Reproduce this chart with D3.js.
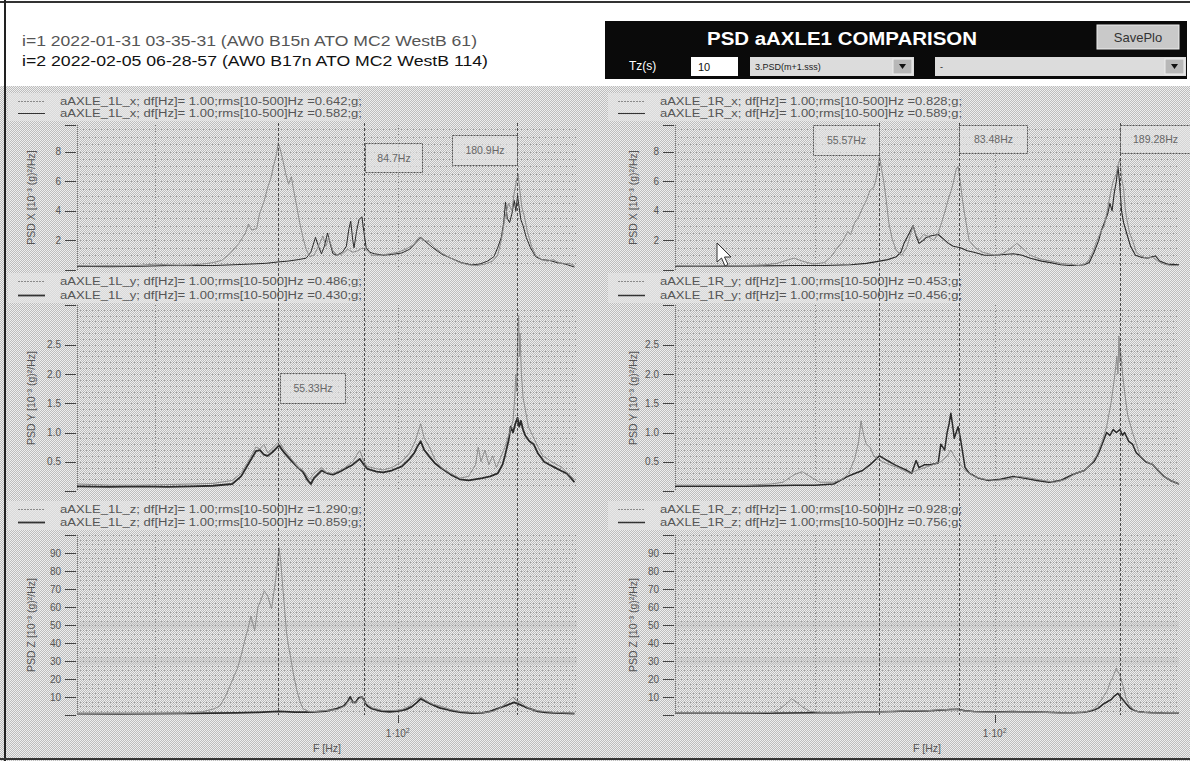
<!DOCTYPE html>
<html><head><meta charset="utf-8">
<script src="https://cdn.jsdelivr.net/npm/d3@7"></script>
<style>
html,body{margin:0;padding:0;background:#fff;}
svg{display:block;font-family:"Liberation Sans",Arial,sans-serif;}
</style></head><body>
<svg id="c" width="1190" height="761"></svg>
<script>
// ---------------- DATA ----------------
const headerLines = ["i=1  2022-01-31 03-35-31 (AW0  B15n  ATO  MC2  WestB  61)",
                     "i=2  2022-02-05 06-28-57 (AW0  B17n  ATO  MC2  WestB  114)"];
const titleText = "PSD aAXLE1  COMPARISON";
const legendLeft = [
  ["aAXLE_1L_x; df[Hz]= 1.00;rms[10-500]Hz =0.642;g;","aAXLE_1L_x; df[Hz]= 1.00;rms[10-500]Hz =0.582;g;"],
  ["aAXLE_1L_y; df[Hz]= 1.00;rms[10-500]Hz =0.486;g;","aAXLE_1L_y; df[Hz]= 1.00;rms[10-500]Hz =0.430;g;"],
  ["aAXLE_1L_z; df[Hz]= 1.00;rms[10-500]Hz =1.290;g;","aAXLE_1L_z; df[Hz]= 1.00;rms[10-500]Hz =0.859;g;"]];
const legendRight = [
  ["aAXLE_1R_x; df[Hz]= 1.00;rms[10-500]Hz =0.828;g;","aAXLE_1R_x; df[Hz]= 1.00;rms[10-500]Hz =0.589;g;"],
  ["aAXLE_1R_y; df[Hz]= 1.00;rms[10-500]Hz =0.453;g;","aAXLE_1R_y; df[Hz]= 1.00;rms[10-500]Hz =0.456;g;"],
  ["aAXLE_1R_z; df[Hz]= 1.00;rms[10-500]Hz =0.928;g;","aAXLE_1R_z; df[Hz]= 1.00;rms[10-500]Hz =0.756;g;"]];
const yTitles = ["PSD X [10\u207B\u00B3 (g)\u00B2/Hz]","PSD Y [10\u207B\u00B3 (g)\u00B2/Hz]","PSD Z [10\u207B\u00B3 (g)\u00B2/Hz]"];
const yTicksX = [2,4,6,8];
const yTicksY = [0.5,1.0,1.5,2.0,2.5];
const yTicksZ = [10,20,30,40,50,60,70,80,90];
const yDomains = [[0,9.8],[0,3.18],[0,100]];
const yMinorStep = [0.5,0.1,2.5];
const xDomainLeft = [20.4,243];
const xDomainRight = [19.6,256];
const gridFreqLeft = [30,100];
const gridFreqRight = [40,100];
const markersLeft = [55.33,84.7,180.9];
const markerLabelsLeft = ["55.33Hz","84.7Hz","180.9Hz"];
const markersRight = [55.57,83.48,189.28];
const markerLabelsRight = ["55.57Hz","83.48Hz","189.28Hz"];

const L_X_1 = [[20.4,0.3],[22,0.28],[24,0.3],[26,0.28],[28,0.32],[30,0.4],[32,0.35],[34,0.33],[36,0.35],[38,0.4],[40,0.5],[41.8,0.65],[43.5,1.1],[45.5,1.8],[47,2.5],[47.7,3.1],[48.5,2.7],[49.7,2.8],[50.4,3.8],[51.5,4.6],[52.5,5.6],[53.3,6.2],[54,7.0],[54.8,7.8],[55.3,8.6],[55.8,8.2],[56.6,7.4],[57.4,6.5],[58.2,5.8],[59,6.3],[59.6,5.5],[60.6,4.3],[61.5,3.2],[62.5,2.2],[63.5,1.4],[64.6,0.9],[66,1.0],[67.5,1.6],[69,2.3],[70,1.6],[71,2.2],[72.5,1.3],[74,1.0],[76,1.1],[78,1.4],[80,1.2],[82,1.3],[84,1.5],[86,1.3],[88,1.0],[92,1.0],[96,1.1],[100,1.2],[104,1.4],[108,1.7],[111,2.2],[114,2.0],[117,1.9],[120,1.5],[125,1.1],[130,0.8],[136,0.5],[142,0.35],[148,0.3],[154,0.4],[160,0.6],[164,1.0],[167,2.0],[170,3.5],[173,4.5],[176,4.0],[178,5.2],[180,6.0],[181.5,6.5],[183,5.4],[185,4.2],[187,3.7],[190,2.6],[194,1.6],[198,1.0],[204,0.7],[210,0.6],[216,0.7],[222,0.5],[228,0.4],[234,0.45],[240,0.3]];
const L_X_2 = [[20.4,0.25],[24,0.22],[28,0.25],[32,0.3],[36,0.3],[40,0.3],[44,0.35],[48,0.4],[52,0.45],[55.5,0.55],[58,0.6],[61,0.7],[63.5,0.8],[65,1.2],[66.5,2.2],[67.5,1.6],[68.5,1.1],[69.5,1.6],[70.6,2.5],[71.5,1.8],[72.5,1.1],[74,1.0],[76,1.2],[77.5,1.6],[78.5,2.8],[79.2,3.3],[80,2.0],[80.5,1.5],[81.5,2.6],[82.5,3.4],[83.7,3.6],[84.5,2.6],[85.5,1.5],[87,1.2],[89,1.1],[93,1.0],[97,1.05],[102,1.15],[106,1.4],[109,1.8],[112,2.2],[115,1.9],[119,1.5],[124,1.1],[130,0.8],[137,0.5],[144,0.35],[150,0.4],[156,0.6],[161,0.9],[164,1.5],[167,2.2],[169,3.2],[170.5,4.6],[172,3.5],[174,3.2],[176,3.8],[178,4.7],[179.5,4.0],[181,5.0],[182.5,4.2],[184,3.4],[186,3.0],[189,2.2],[193,1.5],[198,0.9],[204,0.7],[212,0.65],[220,0.5],[226,0.45],[232,0.35],[240,0.2]];
const R_X_1 = [[19.6,0.3],[22,0.28],[25,0.3],[28,0.3],[31,0.35],[33,0.45],[35,0.7],[36,0.8],[37.5,0.6],[39.7,0.4],[42,0.5],[43.5,0.9],[44.6,1.4],[46,1.9],[47.3,2.6],[48,2.4],[49,3.2],[50,3.6],[51,4.2],[52,4.7],[53,5.4],[54,5.6],[54.5,6.0],[55,6.6],[55.6,7.7],[56.2,6.8],[56.8,6.0],[57.5,4.8],[58.3,3.2],[59.3,2.1],[60.6,1.3],[62.3,1.0],[64,1.6],[65,2.3],[66,3.0],[67,2.4],[68,2.0],[69.5,2.4],[71,2.3],[73.4,2.0],[75,2.5],[76.5,3.3],[77.7,4.0],[79,4.8],[80,5.3],[81,5.9],[82.2,6.8],[83,7.0],[83.9,6.0],[85,4.6],[86,3.6],[87.8,2.0],[90.6,1.5],[94,1.2],[100,1.0],[104,1.1],[108,1.4],[112,1.8],[115,1.5],[120,1.0],[127,0.7],[133,0.6],[140,0.45],[146,0.4],[154,0.3],[158,0.4],[161,0.6],[165,1.2],[168,1.9],[172,2.6],[175,3.0],[178,4.2],[180,5.0],[183,6.0],[186,6.5],[188,7.2],[189.5,7.5],[191,6.2],[193,5.5],[194.5,4.2],[196,3.5],[199,2.5],[202,2.0],[206,1.2],[210,1.0],[216,0.8],[224,0.85],[230,0.6],[237,0.4],[245,0.3],[256,0.3]];
const R_X_2 = [[19.6,0.25],[24,0.25],[30,0.28],[36,0.3],[42,0.3],[48,0.35],[52,0.45],[55.6,0.6],[58,0.7],[60.6,0.9],[62,1.2],[63,1.8],[64.5,2.4],[66,3.0],[67,2.3],[68,1.8],[69.5,2.0],[70.6,2.2],[72,2.3],[75,2.4],[77,2.1],[79,1.8],[81,1.6],[84,1.5],[87,1.3],[90,1.2],[95,1.0],[100,1.0],[105,1.05],[110,1.1],[115,1.0],[120,0.8],[127,0.6],[133,0.5],[140,0.35],[146,0.3],[153,0.3],[158,0.35],[162,0.5],[166,1.2],[170,2.0],[172,2.6],[175,3.2],[178,3.8],[180,4.5],[182,4.0],[184,5.2],[186,6.0],[187.5,7.0],[189,6.0],[191,4.0],[193,3.2],[196,2.5],[200,1.6],[205,1.0],[212,0.85],[218,0.8],[223,0.9],[227,0.95],[232,0.6],[241,0.4],[256,0.35]];
const L_Y_1 = [[20.4,0.12],[24,0.1],[28,0.1],[32,0.11],[36,0.12],[40,0.13],[44,0.18],[46,0.3],[48,0.55],[49.5,0.75],[50.5,0.72],[51.5,0.8],[52.5,0.65],[54,0.75],[55.5,0.85],[57,0.7],[59,0.55],[61,0.4],[62.5,0.35],[64.6,0.2],[66,0.3],[68.5,0.4],[70,0.32],[72.5,0.3],[75,0.35],[77,0.4],[80,0.5],[82.8,0.7],[84.5,0.5],[86,0.42],[90,0.38],[93,0.36],[97,0.4],[102,0.5],[106,0.65],[109,0.85],[112,1.15],[114,0.9],[117,0.75],[120,0.55],[124,0.4],[130,0.3],[136,0.22],[142,0.25],[147,0.45],[149,0.75],[151,0.5],[154,0.7],[157,0.45],[160,0.6],[163,0.4],[166,0.55],[170,0.75],[174,1.0],[177,1.2],[178.5,1.6],[179.5,2.0],[180.3,1.7],[181,2.6],[182,3.0],[182.6,2.3],[183.2,2.7],[184.5,2.0],[186,1.6],[188,1.4],[191,1.1],[195,0.95],[199,0.8],[205,0.6],[210,0.55],[214,0.5],[220,0.45],[226,0.4],[232,0.3],[240,0.2]];
const L_Y_2 = [[20.4,0.08],[24,0.07],[28,0.08],[32,0.07],[36,0.08],[40,0.09],[44,0.12],[46,0.25],[48,0.5],[49.5,0.68],[50.5,0.7],[51.5,0.62],[52.5,0.6],[54,0.68],[55.5,0.78],[57,0.65],[59,0.52],[61,0.4],[62.5,0.33],[64,0.18],[65,0.12],[66,0.22],[68.5,0.35],[70.6,0.3],[72.5,0.28],[75,0.33],[77,0.38],[80,0.45],[82.8,0.55],[84.5,0.45],[86,0.38],[90,0.33],[93,0.32],[97,0.35],[102,0.42],[106,0.55],[108.5,0.65],[110,0.75],[112,0.85],[114,0.7],[116.6,0.6],[120,0.48],[123.5,0.4],[130,0.28],[136,0.2],[142,0.18],[146.5,0.2],[152,0.22],[158,0.25],[164,0.3],[168,0.45],[170,0.6],[173,0.85],[175,1.1],[177,1.0],[179,1.15],[181,1.25],[182.5,1.1],[184,1.2],[186,1.05],[188,0.95],[192,0.85],[196,0.8],[200,0.65],[206.5,0.5],[212,0.45],[218,0.4],[224,0.35],[231,0.3],[236,0.22],[240,0.15]];
const R_Y_1 = [[19.6,0.1],[24,0.1],[28,0.1],[32,0.12],[34,0.15],[36,0.28],[37.5,0.33],[39,0.25],[41,0.15],[44,0.15],[46,0.2],[47.5,0.3],[49,0.55],[50,0.85],[50.6,1.2],[51.3,0.95],[52,0.8],[53,0.75],[54,0.6],[55,0.55],[56.5,0.5],[58.5,0.45],[61,0.4],[63,0.35],[65,0.3],[67,0.35],[70,0.4],[73,0.45],[76,0.5],[78.5,0.6],[80,0.7],[82,0.55],[84,0.45],[86,0.35],[90,0.25],[95,0.2],[100,0.18],[107,0.2],[113,0.25],[120,0.22],[128,0.18],[136,0.15],[144,0.2],[151,0.3],[158,0.35],[163,0.45],[168,0.6],[173,0.85],[177,1.1],[181,1.5],[184,1.9],[186.5,2.3],[187.5,2.0],[188.5,2.65],[189.5,2.2],[190,2.4],[192,2.0],[194,1.7],[197,1.3],[202,1.0],[206,0.8],[210,0.6],[217,0.5],[224,0.45],[230,0.35],[237,0.25],[245,0.18],[256,0.12]];
const R_Y_2 = [[19.6,0.08],[24,0.08],[28,0.08],[32,0.09],[36,0.1],[40,0.1],[44,0.12],[47.3,0.25],[49,0.3],[51,0.35],[53,0.45],[55.6,0.6],[57,0.55],[58.5,0.5],[60,0.45],[62,0.4],[64,0.35],[65.5,0.3],[67,0.52],[68,0.4],[70,0.45],[72,0.45],[75,0.48],[76,0.8],[77.5,0.7],[78.5,1.0],[79.3,1.15],[80,1.33],[80.8,1.1],[81.4,0.9],[82.2,1.0],[83,1.1],[84,0.9],[84.8,0.7],[86,0.4],[88,0.3],[92,0.22],[97,0.18],[103,0.2],[110,0.25],[116,0.22],[124,0.18],[132,0.15],[140,0.18],[146,0.25],[151,0.3],[158,0.35],[163,0.45],[166,0.5],[170,0.65],[174,0.85],[177,1.0],[180,0.95],[183,1.05],[186,1.0],[189.5,1.05],[192,0.95],[194,1.0],[198,0.85],[202,0.8],[206,0.65],[209.5,0.6],[216,0.5],[224,0.45],[230,0.35],[237,0.25],[245,0.18],[256,0.12]];
const L_Z_1 = [[20.4,0.8],[25,0.8],[30,0.9],[34.5,1.0],[38,1.8],[40.3,3.5],[41.4,5],[42.5,10],[43.5,16],[44.5,22],[45.2,26],[46,33],[46.9,42],[47.6,48],[48.3,55],[49.2,47],[50,60],[50.8,64],[51.6,69],[52.5,66],[53.5,59],[54.1,68],[54.7,77],[55.1,85],[55.5,93],[56,85],[56.6,70],[57.1,58],[57.6,46],[58.2,38],[58.8,32],[59.5,24],[60.6,14],[61.5,8],[62.5,3.5],[64.6,1.8],[67,2],[70,2.5],[74,3],[77,5],[79,9],[80,7],[81,6.5],[82.5,9],[83.7,10],[85,7],[88,4],[93,2.5],[98,2.5],[102,3],[106,5],[109,8],[112,10],[115,8],[119,6],[123.5,5],[130,3],[136,2],[144,1.5],[152,1.2],[160,2],[165,3.5],[170,6],[174,8],[177,10],[180,8],[184,7],[188,5],[192,3.5],[198,2.5],[206,2],[215,1.5],[225,1.3],[240,1.0]];
const L_Z_2 = [[20.4,0.8],[25,0.7],[30,0.8],[35,0.9],[40,1.0],[45,1.2],[50,1.5],[55.5,2.0],[60,1.6],[65,1.6],[70,2.2],[74,3.5],[76.5,5],[78,7.5],[79,10],[80,7],[81.2,7],[82.3,9.5],[83.7,10],[84.7,8],[86,5],[88,3.5],[92,2.2],[96,1.8],[100,2.2],[104,3],[107,4.5],[110,7],[112,9],[114,8],[118,6],[123,4],[130,2.5],[137,1.5],[144,1.0],[152,1.2],[158,2],[164,3.5],[170,5],[174,6],[178,7],[182,6],[186,5],[190,4],[195,3],[200,2],[208,1.5],[216,1.2],[226,1.0],[240,0.8]];
const R_Z_1 = [[19.6,1],[25,1],[30,1.2],[32.3,1.5],[33.5,3.5],[34.5,6],[35.5,9],[36.5,7],[37.5,4.5],[39,2],[41,1.5],[45,1.5],[50,1.5],[55.6,1.8],[60,2.0],[65,2.5],[70,2.3],[75,2.8],[80,3.2],[83,3.0],[86,2.2],[90,1.8],[100,1.5],[110,1.8],[120,1.6],[130,1.4],[140,1.2],[150,1.3],[158,1.6],[163,2.5],[166,3.5],[169,5.5],[172,8],[175,11],[178,14],[180,18],[182,20],[184,23],[186,26],[187.5,24],[189.5,22],[191.5,18],[193,15],[195,10],[198,6],[202,3.5],[206,2],[212,1.5],[222,1.2],[235,1.0],[256,1.0]];
const R_Z_2 = [[19.6,1],[25,1],[30,1],[35,1.1],[40,1.2],[45,1.3],[50,1.5],[55.6,1.8],[60,2],[65,2.3],[70,2.2],[75,2.6],[80,3],[83,3.2],[86,2.4],[90,2],[100,1.6],[110,1.9],[120,1.7],[130,1.5],[140,1.3],[150,1.2],[158,1.5],[163,2.2],[167,3],[170,4],[174,6],[178,7.5],[181,8.5],[184,10.5],[187.5,12],[190,10],[193,8],[196,6],[199,4],[202,3],[207,2],[214,1.5],[224,1.2],[240,1.0],[256,1.0]];

// ---------------- LAYOUT ----------------
const W = 1190, H = 761;
const svg = d3.select("#c");
const defs = svg.append("defs");
const pat = defs.append("pattern").attr("id","dith").attr("width",2).attr("height",2).attr("patternUnits","userSpaceOnUse");
pat.append("rect").attr("width",2).attr("height",2).attr("fill","#eeeeee");
pat.append("rect").attr("x",1).attr("y",0).attr("width",1).attr("height",1).attr("fill","#bdbdbd");
pat.append("rect").attr("x",0).attr("y",1).attr("width",1).attr("height",1).attr("fill","#bdbdbd");

svg.append("rect").attr("width",W).attr("height",H).attr("fill","#fff");
svg.append("rect").attr("x",0).attr("y",86).attr("width",W).attr("height",H-86).attr("fill","url(#dith)");
// frame
svg.append("rect").attr("x",0).attr("y",1).attr("width",W).attr("height",2).attr("fill","#333");
svg.append("rect").attr("x",4).attr("y",0).attr("width",2).attr("height",H).attr("fill","#222");
svg.append("rect").attr("x",0).attr("y",H-3).attr("width",W).attr("height",2).attr("fill","#333");

// header left
svg.append("text").attr("x",22).attr("y",46).attr("font-size",15).attr("fill","#555")
  .attr("textLength",455).attr("lengthAdjust","spacingAndGlyphs").text(headerLines[0]);
svg.append("text").attr("x",22).attr("y",66).attr("font-size",15).attr("fill","#111")
  .attr("textLength",466).attr("lengthAdjust","spacingAndGlyphs").text(headerLines[1]);

// header right (control panel)
svg.append("rect").attr("x",605).attr("y",21).attr("width",582).attr("height",58).attr("fill","#0a0a0a");
svg.append("text").attr("x",842).attr("y",45).attr("text-anchor","middle").attr("font-size",18).attr("font-weight","bold")
  .attr("fill","#fff").attr("textLength",270).attr("lengthAdjust","spacingAndGlyphs").text(titleText);
svg.append("rect").attr("x",1097).attr("y",25).attr("width",82).attr("height",24).attr("fill","#c9c9c9").attr("stroke","#eee");
svg.append("text").attr("x",1138).attr("y",42).attr("text-anchor","middle").attr("font-size",13).attr("fill","#333").text("SavePlo");
svg.append("text").attr("x",629).attr("y",70).attr("font-size",12).attr("fill","#fff").text("Tz(s)");
svg.append("rect").attr("x",691).attr("y",57).attr("width",47).attr("height",19).attr("fill","#fff");
svg.append("text").attr("x",698).attr("y",71).attr("font-size",11).attr("fill","#111").text("10");
function combo(x,w,label){
  svg.append("rect").attr("x",x).attr("y",57).attr("width",w).attr("height",19).attr("fill","#dcdcdc");
  svg.append("text").attr("x",x+5).attr("y",70).attr("font-size",9).attr("fill","#222").text(label);
  svg.append("rect").attr("x",x+w-21).attr("y",59).attr("width",19).attr("height",15).attr("fill","#b8b8b8").attr("stroke","#eee");
  svg.append("path").attr("d",`M${x+w-15},64 L${x+w-8},64 L${x+w-11.5},69 Z`).attr("fill","#111");
}
combo(750,164,"3.PSD(m+1.sss)");
combo(935,251,"-");

// panels
const cols = [
  {x0:77, x1:577, xd:xDomainLeft, grid:gridFreqLeft, mk:markersLeft, mkl:markerLabelsLeft, leg:legendLeft,
   data:[[L_X_1,L_X_2],[L_Y_1,L_Y_2],[L_Z_1,L_Z_2]], sx:18, tx:60, titleX:31, legBgW:350},
  {x0:675, x1:1179, xd:xDomainRight, grid:gridFreqRight, mk:markersRight, mkl:markerLabelsRight, leg:legendRight,
   data:[[R_X_1,R_X_2],[R_Y_1,R_Y_2],[R_Z_1,R_Z_2]], sx:618, tx:660, titleX:633, legBgW:352}
];
const panels = [
  {top:125, bot:270, leg:[101,113], ticks:yTicksX, fmt:d=>String(d)},
  {top:305, bot:491, leg:[281,295], ticks:yTicksY, fmt:d=>d.toFixed(1)},
  {top:535, bot:715, leg:[509,522], ticks:yTicksZ, fmt:d=>String(d)}
];
const s1Color = "#8c8c8c", s2Color = "#2b2b2b";
const s2Width = [[1,1.8,1.8],[1.1,1.5,1.5]];

cols.forEach((col,ci)=>{
  const x = d3.scaleLog().domain(col.xd).range([col.x0,col.x1]);
  col.x = x;
  panels.forEach((p,pi)=>{
    const y = d3.scaleLinear().domain(yDomains[pi]).range([p.bot,p.top]);
    const g = svg.append("g");
    // legend background
    g.append("rect").attr("x",col.sx-10).attr("y",p.leg[0]-8).attr("width",col.legBgW).attr("height",p.leg[1]-p.leg[0]+16)
      .attr("fill","#e6e6e6").attr("opacity",0.7);
    // panel 3 darker bands
    if(pi===2){
      [30,50].forEach(v=>{
        g.append("rect").attr("x",col.x0).attr("y",y(v+2)).attr("width",col.x1-col.x0).attr("height",y(v-2)-y(v+2))
          .attr("fill","#bdbdbd").attr("opacity",0.35);
      });
    }
    // horizontal grid
    const step = yMinorStep[pi];
    const n = Math.floor(yDomains[pi][1]/step+1e-6);
    for(let k=1;k<=n;k++){
      const v = k*step;
      g.append("line").attr("x1",col.x0).attr("x2",col.x1).attr("y1",Math.round(y(v))+0.5).attr("y2",Math.round(y(v))+0.5)
        .attr("stroke","#9a9a9a").attr("stroke-width",1).attr("stroke-dasharray","1,2");
    }
    // vertical grid
    col.grid.forEach(f=>{
      g.append("line").attr("x1",Math.round(x(f))+0.5).attr("x2",Math.round(x(f))+0.5).attr("y1",p.top).attr("y2",p.bot)
        .attr("stroke","#8a8a8a").attr("stroke-dasharray","1,2");
    });
    // left axis (dotted)
    g.append("line").attr("x1",col.x0+0.5).attr("x2",col.x0+0.5).attr("y1",p.top).attr("y2",p.bot)
      .attr("stroke","#777").attr("stroke-dasharray","1,1");
    // y ticks
    const allT = [yDomains[pi][0]].concat(p.ticks).concat([yDomains[pi][1]]);
    allT.forEach(t=>{
      g.append("line").attr("x1",col.x0-12).attr("x2",col.x0-1).attr("y1",Math.round(y(t))+0.5).attr("y2",Math.round(y(t))+0.5)
        .attr("stroke","#444").attr("stroke-width",1);
    });
    p.ticks.forEach(t=>{
      g.append("text").attr("x",col.x0-16).attr("y",y(t)+3.5).attr("text-anchor","end").attr("font-size",10).attr("fill","#555").text(p.fmt(t));
    });
    // y title
    const cy = (p.top+p.bot)/2;
    g.append("text").attr("transform",`translate(${col.titleX+4},${cy}) rotate(-90)`).attr("text-anchor","middle")
      .attr("font-size",10.5).attr("fill","#555").text(yTitles[pi]);
    // legend
    [0,1].forEach(si=>{
      const ly = p.leg[si];
      g.append("line").attr("x1",col.sx).attr("x2",col.sx+27).attr("y1",ly+0.5).attr("y2",ly+0.5)
        .attr("stroke", si===0? "#8a8a8a":"#333").attr("stroke-width", si===0?1:s2Width[ci][pi])
        .attr("stroke-dasharray", si===0? "2,1":null);
      g.append("text").attr("x",col.tx).attr("y",ly+3.5).attr("font-size",10).attr("fill","#555")
        .attr("textLength",302).attr("lengthAdjust","spacingAndGlyphs").text(col.leg[pi][si]);
    });
    // curves
    const clipId = `clip${ci}${pi}`;
    defs.append("clipPath").attr("id",clipId).append("rect").attr("x",col.x0).attr("y",p.top-2).attr("width",col.x1-col.x0+2).attr("height",p.bot-p.top+4);
    const line = d3.line().x(d=>x(d[0])).y(d=>y(d[1]));
    const cg = g.append("g").attr("clip-path",`url(#${clipId})`);
    cg.append("path").attr("d",line(col.data[pi][1])).attr("fill","none").attr("stroke",s2Color).attr("stroke-width",s2Width[ci][pi]).attr("stroke-linejoin","round");
    cg.append("path").attr("d",line(col.data[pi][0])).attr("fill","none").attr("stroke",s1Color).attr("stroke-width",1).attr("stroke-linejoin","round");
  });
  // x axis
  const f100 = 100;
  svg.append("line").attr("x1",Math.round(x(f100))+0.5).attr("x2",Math.round(x(f100))+0.5).attr("y1",715).attr("y2",723).attr("stroke","#444");
  const tl = svg.append("text").attr("x",x(f100)).attr("y",737).attr("text-anchor","middle").attr("font-size",10).attr("fill","#555");
  tl.append("tspan").text("1\u00B710");
  tl.append("tspan").attr("dy",-4).attr("font-size",7).text("2");
  svg.append("text").attr("x",(col.x0+col.x1)/2).attr("y",752).attr("text-anchor","middle").attr("font-size",10.5).attr("fill","#555").text("F [Hz]");
  // markers
  col.mk.forEach(f=>{
    svg.append("line").attr("x1",Math.round(x(f))+0.5).attr("x2",Math.round(x(f))+0.5).attr("y1",123).attr("y2",715)
      .attr("stroke","#4a4a4a").attr("stroke-width",1).attr("stroke-dasharray","3,2");
  });
});

// marker label boxes (position relative to marker line)
const boxLayout = [
  [{side:1, y:373, h:30, w:65, off:2},{side:1, y:143, h:29, w:57, off:1},{side:-1, y:135, h:30, w:65, off:0}],
  [{side:-1, y:125, h:30, w:66, off:0},{side:1, y:125, h:28, w:68, off:0},{side:1, y:125, h:28, w:70, off:0}]
];
cols.forEach((col,ci)=>{
  col.mk.forEach((f,mi)=>{
    const b = boxLayout[ci][mi];
    const xm = Math.round(col.x(f))+0.5;
    const bx = b.side>0 ? xm+b.off : xm-b.w;
    svg.append("rect").attr("x",bx).attr("y",b.y+0.5).attr("width",b.w).attr("height",b.h)
      .attr("fill","#e4e4e4").attr("fill-opacity",0.6).attr("stroke","#555").attr("stroke-dasharray","2,1");
    svg.append("text").attr("x",bx+b.w/2).attr("y",b.y+b.h/2+4).attr("text-anchor","middle").attr("font-size",10.5)
      .attr("fill","#666").text(col.mkl[mi]);
  });
});

// mouse cursor
svg.append("path").attr("d","M717,243 L717,262 L721.5,258 L725,266 L728,264.5 L724.5,257 L731,257 Z")
  .attr("fill","#fff").attr("stroke","#333").attr("stroke-width",1);
</script>
</body></html>
